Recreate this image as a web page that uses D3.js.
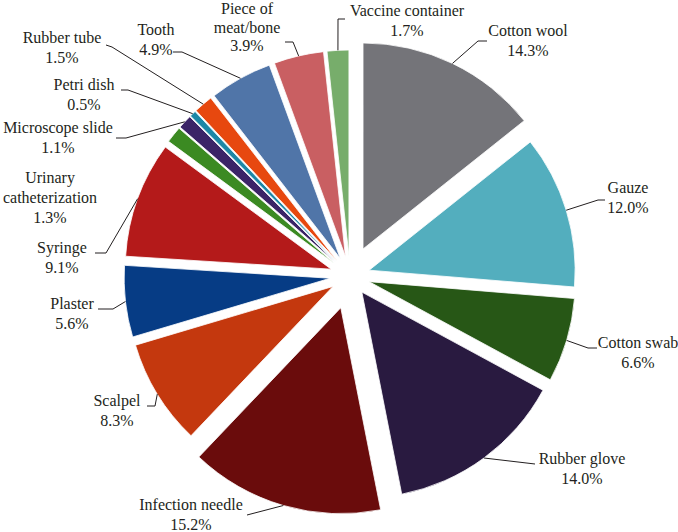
<!DOCTYPE html>
<html lang="en">
<head>
<meta charset="utf-8">
<title>Medical waste pie</title>
<script src="https://cdn.jsdelivr.net/npm/d3@7"></script>
<style>
  body { margin: 0; background: #fff; }
  text { font-family: "Liberation Serif", "DejaVu Serif", serif; font-size: 16px; fill: #231f20; }
</style>
</head>
<body>
<script>
// -- Data -- //
const categories = ["Cotton wool", "Gauze", "Cotton swab", "Rubber glove", "Infection needle",
  "Scalpel", "Plaster", "Syringe", "Urinary catheterization", "Microscope slide",
  "Petri dish", "Rubber tube", "Tooth", "Piece of meat/bone", "Vaccine container"];
const values = [14.3, 12.0, 6.6, 14.0, 15.2, 8.3, 5.6, 9.1, 1.3, 1.1, 0.5, 1.5, 4.9, 3.9, 1.7];
const colors = ["#747479", "#53aebe", "#275716", "#291a40", "#6a0c0c", "#c4380e", "#063c85",
  "#b41a1a", "#3b8a22", "#3b2467", "#1c87a6", "#e7480f", "#5075a8", "#c95f62", "#77ad6b"];

// -- Layout -- //
const width = 678, height = 532;
const cx = 350, cy = 276, radius = 206;
// how far each slice is pulled out
const explode = [30, 20, 20, 20, 33, 20, 20, 20, 20, 20, 20, 20, 20, 20, 20];
// label text lines, position (centre x, first baseline y), line gap and leader bend points
const labelLayout = [
  { lines: ["Cotton wool"], x: 528, y: 36, leader: [[478, 41], [487, 41]] },
  { lines: ["Gauze"], x: 628, y: 193, leader: [[598, 200], [605, 200]] },
  { lines: ["Cotton swab"], x: 638, y: 348, leader: [[588, 348], [597, 348]] },
  { lines: ["Rubber glove"], x: 582, y: 464, leader: [[535, 464]] },
  { lines: ["Infection needle"], x: 191, y: 510, leader: [[247, 515]] },
  { lines: ["Scalpel"], x: 117, y: 406, leader: [[155, 406], [147, 406]] },
  { lines: ["Plaster"], x: 72, y: 309, leader: [[113, 309], [98, 309]] },
  { lines: ["Syringe"], x: 62, y: 253, leader: [[106, 253], [95, 253]] },
  { lines: ["Urinary", "catheterization"], x: 50, y: 183, leader: null },
  { lines: ["Microscope slide"], x: 58, y: 133, leader: [[126, 138], [116, 138]] },
  { lines: ["Petri dish"], x: 84, y: 90, leader: [[128, 90], [121, 90]] },
  { lines: ["Rubber tube"], x: 62, y: 43, leader: [[112, 47], [106, 45]] },
  { lines: ["Tooth"], x: 156, y: 35, leader: [[182, 52], [173, 52]] },
  { lines: ["Piece of", "meat/bone"], x: 247, y: 14, gap: 18.5, leader: [[293, 42], [285, 42]] },
  { lines: ["Vaccine container"], x: 407, y: 16, leader: [[338, 19], [345, 19]] }
];

const data = categories.map((c, i) => ({ Category: c, Value: values[i], Color: colors[i], i: i }));

const svg = d3.select("body").append("svg")
  .attr("width", width)
  .attr("height", height);

const pie = d3.pie().value(d => d.Value).sort(null);
const arcs = pie(data);

const arc = d3.arc().innerRadius(0).outerRadius(radius);
const edge = d3.arc().innerRadius(radius).outerRadius(radius);

function offset(d) {
  const mid = (d.startAngle + d.endAngle) / 2;
  const e = explode[d.index];
  return [cx + e * Math.sin(mid), cy - e * Math.cos(mid)];
}

svg.append("g")
  .selectAll("path")
  .data(arcs)
  .join("path")
    .attr("transform", d => `translate(${offset(d)})`)
    .attr("d", arc)
    .attr("fill", d => d.data.Color)
    .attr("stroke", "#fff")
    .attr("stroke-width", 0.8);

// leaders
const line = d3.line();
svg.append("g")
  .selectAll("path")
  .data(arcs.filter(d => labelLayout[d.index].leader))
  .join("path")
    .attr("fill", "none")
    .attr("stroke", "#231f20")
    .attr("stroke-width", 1)
    .attr("d", d => {
      const o = offset(d);
      const c = edge.centroid(d);
      const start = [o[0] + c[0], o[1] + c[1]];
      return line([start].concat(labelLayout[d.index].leader));
    });

// labels
const labels = svg.append("g")
  .selectAll("text")
  .data(arcs)
  .join("text")
    .attr("text-anchor", "middle")
    .attr("transform", d => `translate(${labelLayout[d.index].x},${labelLayout[d.index].y})`);

labels.each(function(d) {
  const t = d3.select(this);
  const lay = labelLayout[d.index];
  const gap = lay.gap || 20;
  const lines = lay.lines.concat([d3.format(".1f")(d.data.Value) + "%"]);
  lines.forEach((s, k) => {
    t.append("tspan").attr("x", 0).attr("y", k * gap).text(s);
  });
});
</script>
</body>
</html>
